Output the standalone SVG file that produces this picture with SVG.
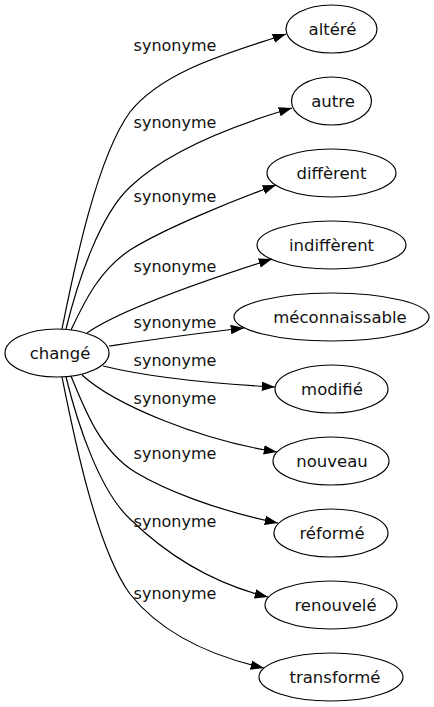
<svg xmlns="http://www.w3.org/2000/svg" width="434" height="707" viewBox="0 0 434 707">
<style>
.node ellipse{fill:none;stroke:#000;stroke-width:1.2}
.node text{font-family:"DejaVu Sans",sans-serif;font-size:16.5px;text-anchor:middle;fill:#111}
.edges path{fill:none;stroke:#000;stroke-width:1.2;marker-end:url(#arr)}
.lbl{font-family:"DejaVu Sans",sans-serif;font-size:16px;text-anchor:middle;fill:#111}
</style>
<defs>
<marker id="arr" markerUnits="userSpaceOnUse" markerWidth="14" markerHeight="10" refX="13.3" refY="4.7" orient="auto">
<path d="M0,0 L13.3,4.7 L0,9.4 z" fill="#000"/>
</marker>
</defs>
<rect width="434" height="707" fill="#fff"/>
<g class="edges">
<path d="M62,329 C72,280 95,160 130,112 C165,68 240,50 286,34"/>
<path d="M66,329 C78,280 100,215 130,187 C170,148 245,122 292,108"/>
<path d="M71,330 C85,300 100,270 130,250 C165,228 235,200 276,185"/>
<path d="M87,333 C120,310 200,282 272,259"/>
<path d="M109,346 C150,340 190,334 244,328"/>
<path d="M103,366 C140,375 200,383 275,387"/>
<path d="M82,375 C115,405 200,440 277,452"/>
<path d="M71,376 C85,410 100,450 135,472 C165,490 215,510 278,523"/>
<path d="M66,377 C78,426 100,491 130,519 C170,558 215,584 268,597"/>
<path d="M62,377 C72,426 95,546 130,594 C165,638 220,658 264,668"/>
<text class="lbl" x="175" y="51">synonyme</text>
<text class="lbl" x="175" y="128">synonyme</text>
<text class="lbl" x="175" y="202">synonyme</text>
<text class="lbl" x="175" y="272">synonyme</text>
<text class="lbl" x="175" y="328">synonyme</text>
<text class="lbl" x="175" y="366">synonyme</text>
<text class="lbl" x="175" y="404">synonyme</text>
<text class="lbl" x="175" y="459">synonyme</text>
<text class="lbl" x="175" y="527">synonyme</text>
<text class="lbl" x="175" y="599">synonyme</text>
</g>
<g id="n-change" class="node"><ellipse cx="57" cy="353" rx="52" ry="24"/><text x="60" y="359">changé</text></g>
<g id="n-altere" class="node"><ellipse cx="331.5" cy="29" rx="45.5" ry="24"/><text x="332.5" y="35">altéré</text></g>
<g id="n-autre" class="node"><ellipse cx="331.5" cy="101" rx="40" ry="24"/><text x="333" y="107">autre</text></g>
<g id="n-different" class="node"><ellipse cx="331.5" cy="173" rx="64.5" ry="24"/><text x="331.5" y="179">diffèrent</text></g>
<g id="n-indifferent" class="node"><ellipse cx="331.5" cy="245" rx="74.5" ry="24"/><text x="331.5" y="251">indiffèrent</text></g>
<g id="n-meconnaissable" class="node"><ellipse cx="331.5" cy="317" rx="97.5" ry="24"/><text x="340" y="323">méconnaissable</text></g>
<g id="n-modifie" class="node"><ellipse cx="331.5" cy="389" rx="56.5" ry="24"/><text x="332" y="395">modifié</text></g>
<g id="n-nouveau" class="node"><ellipse cx="331" cy="461" rx="58" ry="24"/><text x="332" y="467">nouveau</text></g>
<g id="n-reforme" class="node"><ellipse cx="331" cy="533" rx="57" ry="24"/><text x="332" y="539">réformé</text></g>
<g id="n-renouvele" class="node"><ellipse cx="331" cy="605" rx="66" ry="24"/><text x="335.5" y="611">renouvelé</text></g>
<g id="n-transforme" class="node"><ellipse cx="331" cy="677" rx="72" ry="24"/><text x="335" y="683">transformé</text></g>
</svg>
